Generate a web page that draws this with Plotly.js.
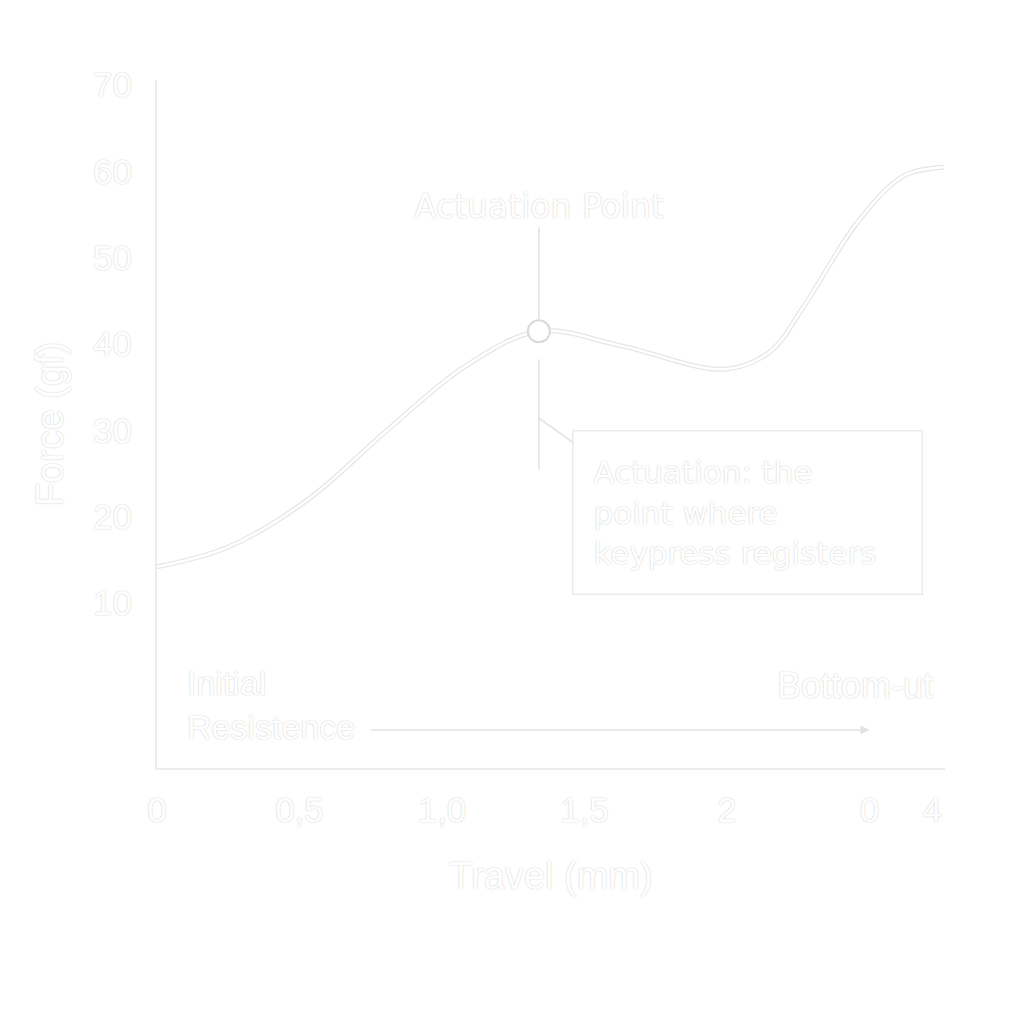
<!DOCTYPE html>
<html>
<head>
<meta charset="utf-8">
<script src="https://cdn.plot.ly/plotly-3.0.1.min.js"></script>
<style>html,body{margin:0;padding:0;background:#fff;}#chart{width:1024px;height:1024px;}</style>
</head>
<body>
<div id="chart"></div>
<script>
// Data
const travel = [0, 0.25, 0.53, 0.80, 1.08, 1.34, 1.63, 1.99, 2.15, 2.27, 2.46, 2.62, 2.76];
const force  = [14.2, 16.5, 22.0, 29.8, 37.4, 41.5, 39.8, 37.1, 39.1, 44.4, 54.2, 59.5, 60.5];
const actuationX = [1.34];
const actuationY = [41.5];
const xTickVals = [0, 0.5, 1, 1.5, 2, 2.5, 2.72];
const xTickText = ["0", "0,5", "1,0", "1,5", "2", "0", "4"];
const yTickVals = [10, 20, 30, 40, 50, 60, 70];
const yTickText = ["10", "20", "30", "40", "50", "60", "70"];

const edge = '#e2e2e2';
const shadow = '0px 0px 1.5px #bdbdbd';
const txt = (size, fam) => ({family: fam || 'Liberation Sans, Arial, sans-serif', size: size, color: '#ffffff', shadow: shadow});
const wide = 'DejaVu Sans, Verdana, sans-serif';

const traces = [
  {x: travel, y: force, mode: 'lines', line: {shape: 'spline', smoothing: 1, color: '#e6e6e6', width: 5}, hoverinfo: 'skip', showlegend: false},
  {x: travel, y: force, mode: 'lines', line: {shape: 'spline', smoothing: 1, color: '#ffffff', width: 2.5}, hoverinfo: 'skip', showlegend: false},
  {x: actuationX, y: actuationY, mode: 'markers', marker: {size: 22, color: '#ffffff', line: {color: '#dadada', width: 2}}, showlegend: false}
];

const ax = actuationX[0], ay = actuationY[0];
const layout = {
  width: 1024, height: 1024,
  paper_bgcolor: '#ffffff', plot_bgcolor: '#ffffff',
  margin: {l: 157, r: 79, t: 80, b: 256},
  showlegend: false,
  xaxis: {
    range: [0, 2.765], showgrid: false, zeroline: false,
    showline: true, linecolor: '#ececec', linewidth: 2,
    tickvals: xTickVals, ticktext: xTickText, ticks: '',
    ticklabelstandoff: 10,
    tickfont: txt(35),
    title: {text: 'Travel (mm)', font: txt(38), standoff: 34}
  },
  yaxis: {
    range: [-9.1, 70.6], showgrid: false, zeroline: false,
    showline: true, linecolor: '#ececec', linewidth: 2,
    tickvals: yTickVals, ticktext: yTickText, ticks: '',
    ticklabelstandoff: 16,
    tickfont: txt(35),
    title: {text: 'Force (gf)', font: txt(38), standoff: 18}
  },
  shapes: [
    {type: 'line', xref: 'x', yref: 'y', xsizemode: 'pixel', ysizemode: 'pixel', xanchor: ax, yanchor: ay,
     x0: 0, x1: 0, y0: -28, y1: -138, line: {color: edge, width: 1.5}},
    {type: 'line', xref: 'x', yref: 'y', xsizemode: 'pixel', ysizemode: 'pixel', xanchor: ax, yanchor: ay,
     x0: 0, x1: 35, y0: -87, y1: -112, line: {color: edge, width: 1.5}}
  ],
  annotations: [
    {x: ax, y: ay, xref: 'x', yref: 'y', text: 'Actuation Point', showarrow: true,
     arrowhead: 0, arrowwidth: 1.5, arrowcolor: edge, ax: 0, ay: -125, standoff: 12,
     font: txt(33, wide)},
    {x: ax, y: ay, xref: 'x', yref: 'y', showarrow: false, xshift: 209, yshift: -181,
     text: 'Actuation: the<br>point where<br>keypress registers', align: 'left',
     bordercolor: '#ececec', borderwidth: 1.5, borderpad: 20, width: 308, height: 122,
     font: txt(31, wide)},
    {x: 0.098, y: -1.8, xref: 'x', yref: 'y', xanchor: 'left', showarrow: false,
     text: 'Initial<br>Resistence', align: 'left', font: txt(34)},
    {x: 2.73, y: 0.5, xref: 'x', yref: 'y', xanchor: 'right', showarrow: false,
     text: 'Bottom-ut', font: txt(36)},
    {x: 2.5, y: -4.7, ax: 0.747, ay: -4.7, axref: 'x', ayref: 'y', xref: 'x', yref: 'y', text: '',
     showarrow: true, arrowhead: 2, arrowsize: 1.2, arrowwidth: 1.5, arrowcolor: edge}
  ]
};

Plotly.newPlot('chart', traces, layout, {displayModeBar: false, staticPlot: true});
</script>
</body>
</html>
